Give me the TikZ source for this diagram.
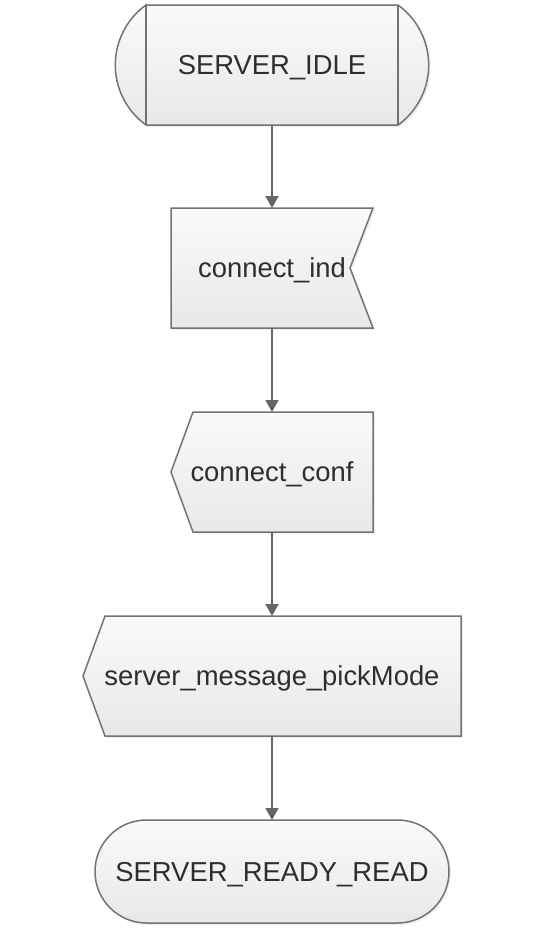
\documentclass[tikz,border=0pt]{standalone}
\usepackage{fontspec}
\setmainfont{Liberation Sans}
\usetikzlibrary{arrows.meta,backgrounds,shadows}

\begin{document}
\begin{tikzpicture}[
		x=0.5pt, y=0.5pt,
		%Option for nice arrows
		>={Triangle[length=6pt, width=6.5pt]}, %
		inner sep=0pt, outer sep=0pt,%
		label/.style={minimum height=60pt, text height=9.6pt, text depth=0pt,
			font=\fontsize{13.7}{16}\selectfont, text=black!82},
		outline/.style={draw=black!55, line width=0.75pt, top color=black!2, bottom color=black!9,
			drop shadow={opacity=0.12, shadow xshift=1pt, shadow yshift=-1pt}},
		conn/.style={draw=black!60, line width=0.9pt, ->},
	]
		% Frame
		\useasboundingbox (0, 0) rectangle (550, -937);

		% States and signals
		\node[label, minimum width=126pt] (idle) at (272, -65) {SERVER\_IDLE};
		\node[label, minimum width=101pt] (ind) at (272, -268) {connect\_ind};
		\node[label, minimum width=101pt] (conf) at (272, -472) {connect\_conf};
		\node[label, minimum width=189pt] (pick) at (272, -676) {server\_message\_pickMode};
		\node[label, minimum width=177pt, minimum height=51.5pt] (ready) at (272, -871.5)
			{SERVER\_READY\_READ};

		\begin{scope}[on background layer]
			% Start state
			\path[outline] (idle.north west) -- (idle.north east)
				arc[start angle=54.2, end angle=-54.2, radius=37pt]
				-- (idle.south west)
				arc[start angle=234.2, end angle=125.8, radius=37pt] -- cycle;
			\draw[draw=black!55, line width=0.75pt] (idle.north west) -- (idle.south west)
				(idle.north east) -- (idle.south east);
			% Input signal
			\path[outline] (ind.north west) -- (ind.north east)
				-- ([xshift=-11.5pt]ind.east) -- (ind.south east)
				-- (ind.south west) -- cycle;
			% Output signals
			\path[outline] ([xshift=11pt]conf.north west) -- (conf.north east)
				-- (conf.south east) -- ([xshift=11pt]conf.south west)
				-- (conf.west) -- cycle;
			\path[outline] ([xshift=11pt]pick.north west) -- (pick.north east)
				-- (pick.south east) -- ([xshift=11pt]pick.south west)
				-- (pick.west) -- cycle;
			% End state
			\path[outline, rounded corners=25.75pt] (ready.north west) rectangle (ready.south east);
		\end{scope}

		% Transitions
		\draw[conn] (idle) -- (ind);
		\draw[conn] (ind) -- (conf);
		\draw[conn] (conf) -- (pick);
		\draw[conn] (pick) -- (ready);
	\end{tikzpicture}
\end{document}
